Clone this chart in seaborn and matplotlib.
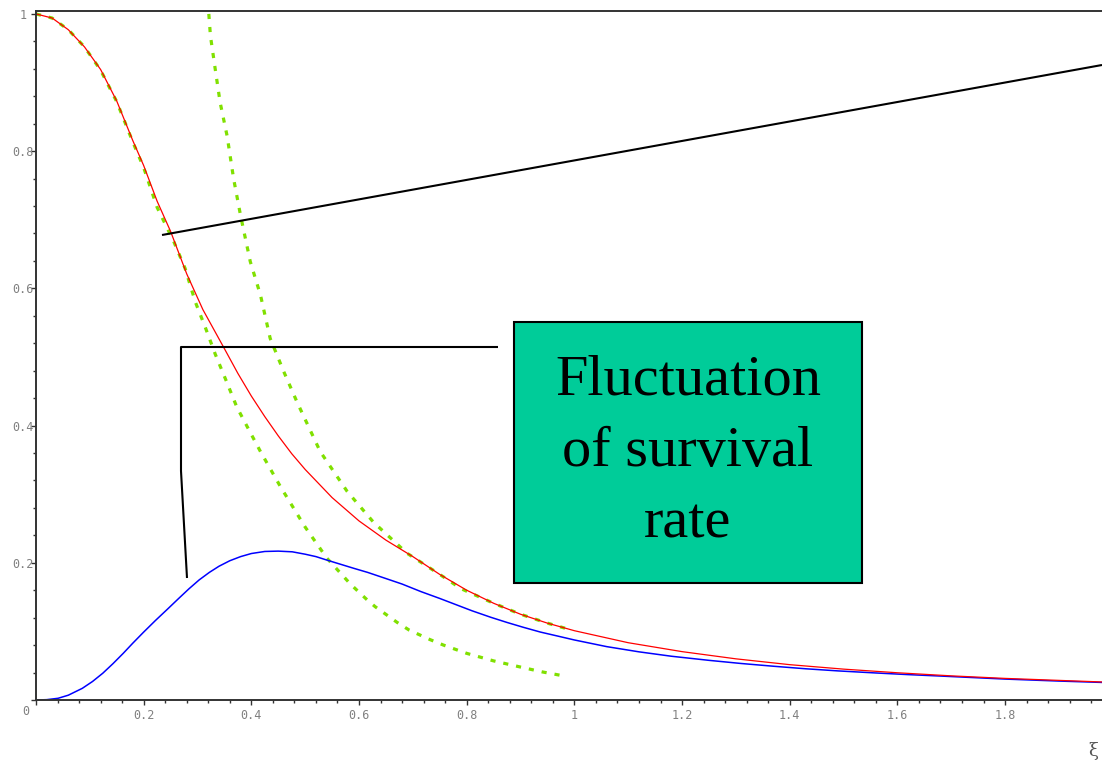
import matplotlib
matplotlib.use("Agg")
import matplotlib.pyplot as plt
from matplotlib.lines import Line2D
from matplotlib.patches import Rectangle
from matplotlib.ticker import MultipleLocator, FuncFormatter
import seaborn as sns

# ---- curves (xi, value) ----
red_x = [0.0, 0.03, 0.06, 0.09, 0.12, 0.15, 0.18, 0.20, 0.225, 0.25, 0.28, 0.31,
         0.35, 0.375, 0.40, 0.425, 0.45, 0.475, 0.50, 0.55, 0.60, 0.65, 0.70, 0.75,
         0.80, 0.85, 0.90, 0.95, 1.00, 1.10, 1.20, 1.30, 1.40, 1.50, 1.60, 1.70,
         1.80, 1.90, 1.98]
red_y = [1.0, 0.994, 0.977, 0.952, 0.919, 0.873, 0.815, 0.779, 0.727, 0.683, 0.621, 0.569,
         0.512, 0.476, 0.443, 0.413, 0.385, 0.359, 0.336, 0.295, 0.261, 0.233, 0.209,
         0.183, 0.160, 0.141, 0.125, 0.112, 0.101, 0.0835, 0.0705, 0.060, 0.0515, 0.045,
         0.0397, 0.0352, 0.0315, 0.0286, 0.0263]

blue_x = [0.0, 0.02, 0.041, 0.06, 0.086, 0.105, 0.124, 0.143, 0.162, 0.18, 0.20, 0.222,
          0.245, 0.265, 0.284, 0.303, 0.322, 0.34, 0.36, 0.38, 0.40, 0.425, 0.45, 0.476,
          0.50, 0.52, 0.54, 0.565, 0.59, 0.616, 0.65, 0.68, 0.715, 0.75, 0.78, 0.81,
          0.845, 0.875, 0.905, 0.937, 0.97, 1.00, 1.06, 1.12, 1.18, 1.25, 1.31, 1.37,
          1.43, 1.49, 1.56, 1.62, 1.68, 1.80, 1.90, 1.98]
blue_y = [0.0, 0.0005, 0.0025, 0.007, 0.017, 0.027, 0.039, 0.053, 0.068, 0.083, 0.099, 0.116,
          0.133, 0.148, 0.162, 0.175, 0.186, 0.195, 0.203, 0.209, 0.2135, 0.2165, 0.217, 0.216,
          0.2125, 0.209, 0.204, 0.198, 0.192, 0.186, 0.177, 0.169, 0.158, 0.148, 0.139, 0.130,
          0.1205, 0.113, 0.106, 0.099, 0.093, 0.0875, 0.0778, 0.0702, 0.0638, 0.0578, 0.0532,
          0.0492, 0.0455, 0.0424, 0.0394, 0.0370, 0.0349, 0.0305, 0.0276, 0.0256]

# small-xi approximation
green_lo_x = [0.0, 0.03, 0.06, 0.09, 0.12, 0.15, 0.18, 0.20, 0.225, 0.256, 0.277, 0.296,
              0.315, 0.333, 0.355, 0.373, 0.40, 0.417, 0.454, 0.50, 0.54, 0.584, 0.615,
              0.63, 0.671, 0.693, 0.732, 0.757, 0.80, 0.85, 0.90, 0.94, 0.981]
green_lo_y = [1.0, 0.994, 0.977, 0.952, 0.918, 0.872, 0.813, 0.776, 0.718, 0.668, 0.629, 0.580,
              0.542, 0.504, 0.462, 0.427, 0.387, 0.362, 0.311, 0.252, 0.207, 0.169, 0.146,
              0.136, 0.113, 0.102, 0.088, 0.080, 0.068, 0.057, 0.048, 0.041, 0.035]

# large-xi approximation
green_hi_x = [0.321, 0.324, 0.333, 0.342, 0.355, 0.367, 0.380, 0.398, 0.417, 0.435, 0.46,
              0.485, 0.528, 0.578, 0.627, 0.689, 0.75, 0.79, 0.85, 0.90, 0.95, 0.99]
green_hi_y = [1.0, 0.968, 0.919, 0.871, 0.822, 0.760, 0.706, 0.639, 0.590, 0.527, 0.479,
              0.434, 0.362, 0.304, 0.259, 0.214, 0.183, 0.162, 0.141, 0.125, 0.112, 0.103]

callout_text = "Fluctuation\nof survival\nrate"
axis_symbol = "ξ"

W, H = 1102, 767


def fig_xy(px, py):
    """Pixel position on the canvas -> figure fraction."""
    return px / W, 1 - py / H


sns.set_theme(style="white")
plt.rcParams["font.family"] = ["DejaVu Sans"]

fig = plt.figure(figsize=(W / 100, H / 100), dpi=100)
fig.patch.set_facecolor("white")
ax = fig.add_axes([36 / W, 67 / H, (W - 36) / W, (700 - 10.5) / H])
ax.set_facecolor("white")

dotted = (0, (1.6, 2.5))
green = "#80e000"
sns.lineplot(x=green_lo_x, y=green_lo_y, ax=ax, color=green, lw=2.3,
             linestyle=dotted, estimator=None, sort=False)
sns.lineplot(x=green_hi_x, y=green_hi_y, ax=ax, color=green, lw=2.3,
             linestyle=dotted, estimator=None, sort=False)
sns.lineplot(x=blue_x, y=blue_y, ax=ax, color="#0000ff", lw=1.1,
             estimator=None, sort=False)
sns.lineplot(x=red_x, y=red_y, ax=ax, color="#ff0000", lw=0.9,
             estimator=None, sort=False)
for ln in ax.lines:
    ln.set_dash_capstyle("butt")
    ln.set_solid_joinstyle("round")

ax.set_xlim(0, 1.98)
ax.set_ylim(0, 1.005)
ax.set_xlabel("")
ax.set_ylabel("")

for side in ("left", "bottom", "top"):
    ax.spines[side].set_visible(True)
    ax.spines[side].set_color("#333333")
    ax.spines[side].set_linewidth(1.4)
ax.spines["right"].set_visible(False)

ax.xaxis.set_major_locator(MultipleLocator(0.2))
ax.xaxis.set_minor_locator(MultipleLocator(0.04))
ax.yaxis.set_major_locator(MultipleLocator(0.2))
ax.yaxis.set_minor_locator(MultipleLocator(0.04))
fmt = FuncFormatter(lambda v, _: "" if abs(v) < 1e-9 else "%g" % round(v, 2))
ax.xaxis.set_major_formatter(fmt)
ax.yaxis.set_major_formatter(fmt)

ax.tick_params(axis="both", which="both", direction="out", color="#333333",
               width=1.0, bottom=True, left=True, top=False, right=False)
ax.tick_params(axis="both", which="major", length=3.5, labelsize=8.5,
               labelcolor="#808080")
ax.tick_params(axis="both", which="minor", length=2.2)
ax.tick_params(axis="x", which="major", pad=3)
ax.tick_params(axis="y", which="major", pad=6)
for lab in ax.get_xticklabels() + ax.get_yticklabels():
    lab.set_family("DejaVu Sans Mono")
for lab in ax.get_yticklabels():
    lab.set_horizontalalignment("center")

ax.annotate("0", xy=(0, 0), xycoords="data", xytext=(-7, -8),
            textcoords="offset points", ha="center", va="center",
            fontsize=8.5, color="#808080", family="DejaVu Sans Mono")

# pointer lines
line_kw = dict(transform=fig.transFigure, color="black", lw=1.5,
               solid_capstyle="butt", zorder=5)
p = [fig_xy(162, 235), fig_xy(1102, 65)]
fig.add_artist(Line2D([p[0][0], p[1][0]], [p[0][1], p[1][1]], **line_kw))
pts = [fig_xy(498, 347), fig_xy(181, 347), fig_xy(181, 471), fig_xy(187, 578)]
fig.add_artist(Line2D([q[0] for q in pts], [q[1] for q in pts], **line_kw))

# callout box
x0, y0 = fig_xy(514, 583)
x1, y1 = fig_xy(862, 322)
fig.add_artist(Rectangle((x0, y0), x1 - x0, y1 - y0, transform=fig.transFigure,
                         facecolor="#00cc99", edgecolor="black", lw=1.5, zorder=6))
cx, cy = fig_xy(688, 452)
fig.text(cx, cy, callout_text, ha="center", va="center", ma="center",
         fontsize=42, family="Liberation Serif", color="black",
         linespacing=1.48, zorder=7)

sx, sy = fig_xy(1093, 751)
fig.text(sx, sy, axis_symbol, ha="center", va="center", fontsize=13,
         family="DejaVu Serif", color="#555555")

fig.savefig("out.png", dpi=100, facecolor="white")
